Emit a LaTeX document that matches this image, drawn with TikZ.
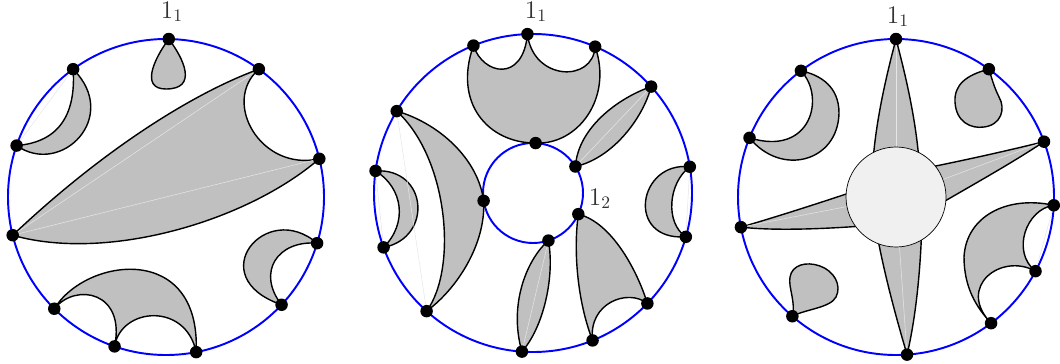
\documentclass[tikz,border=0pt]{standalone}
\usepackage{tikz}
\definecolor{facegray}{RGB}{192,192,192}
\definecolor{holegray}{RGB}{240,240,240}
\definecolor{chordgray}{RGB}{230,230,230}
\tikzset{
  boundary/.style={draw=blue, line width=1.1pt},
  face/.style={draw=black, line width=0.8pt, fill=facegray, line join=round},
  chord/.style={draw=chordgray, line width=0.3pt},
  hole/.style={draw=black, line width=0.4pt, fill=holegray},
  vertex/.style={circle, fill=black, inner sep=0pt, minimum size=2.5mm},
  lab/.style={font=\Large, text=black!80, anchor=base, inner sep=0pt},
}

\begin{document}
\begin{tikzpicture}[x=0.02cm,y=0.02cm]
  \path[use as bounding box] (0,0) rectangle (1060,363);

  % Left disk.
  \begin{scope}[shift={(166,166)}]
    \draw[boundary] (0,0) circle (158);
    \foreach \name/\ang in {a/89,b/126,c/161,d/194,e/225,f/251,g/281,h/317,i/343,j/14,k/54}
      \coordinate (u\name) at (\ang:158);

    \draw[face] (ua) .. controls (-12,138) and (-26,108) .. (0,108)
      .. controls (32,108) and (18,138) .. (ua);
    \draw[face] (ub) .. controls (-90,85) and (-105,55) .. (uc)
      .. controls (-105,20) and (-45,80) .. (ub);
    \draw[face] (ud) .. controls (-60,50) and (30,105) .. (uk)
      .. controls (55,95) and (95,25) .. (uj)
      .. controls (80,-25) and (-60,-65) .. (ud);
    \draw[face] (ui) .. controls (100,-2) and (35,-80) .. (uh)
      .. controls (90,-75) and (112,-43) .. (ui);
    \draw[face] (ue) .. controls (-80,-60) and (35,-45) .. (ug)
      .. controls (20,-105) and (-45,-110) .. (uf)
      .. controls (-40,-95) and (-90,-85) .. (ue);

    \draw[chord] (ub) -- (uc);
    \draw[chord] (ud) -- (uk);
    \draw[chord] (ud) -- (uj);

    \foreach \name in {a,b,c,d,e,f,g,h,i,j,k}
      \node[vertex] (dot-u\name) at (u\name) {};
    \node[lab] (ulab) at (6,179) {$1_1$};
  \end{scope}

  % Middle disk, with an inner boundary.
  \begin{scope}[shift={(533,170)}]
    \draw[boundary] (0,0) circle (159);
    \draw[boundary] (0,0) circle (50);
    \foreach \name/\ang in {a/92,b/112,c/149,d/172,e/200,f/228,g/266,h/292,i/316,j/344,k/9.5,l/42,m/67}
      \coordinate (v\name) at (\ang:159);
    \foreach \name/\ang in {n/87,o/32,p/189,q/335,r/288}
      \coordinate (v\name) at (\ang:50);

    \draw[face] (vb) .. controls (-80,90) and (-45,50) .. (vn)
      .. controls (45,48) and (80,95) .. (vm)
      .. controls (60,110) and (0,112) .. (va)
      .. controls (-10,110) and (-50,118) .. (vb);
    \draw[face] (vo) .. controls (45,65) and (85,95) .. (vl)
      .. controls (110,75) and (80,35) .. (vo);
    \draw[face] (vc) .. controls (-95,70) and (-55,35) .. (vp)
      .. controls (-47,-50) and (-75,-95) .. (vf)
      .. controls (-75,-75) and (-85,35) .. (vc);
    \draw[face] (vd) .. controls (-105,25) and (-100,-45) .. (ve)
      .. controls (-125,-30) and (-130,5) .. (vd);
    \draw[face] (vk) .. controls (105,32) and (92,-48) .. (vj)
      .. controls (132,-30) and (135,10) .. (vk);
    \draw[face] (vr) .. controls (-5,-65) and (-25,-110) .. (vg)
      .. controls (10,-135) and (22,-85) .. (vr);
    \draw[face] (vq) .. controls (80,-30) and (105,-80) .. (vi)
      .. controls (95,-95) and (55,-110) .. (vh)
      .. controls (45,-110) and (40,-60) .. (vq);

    \draw[chord] (vo) -- (vl);
    \draw[chord] (vc) -- (vf);
    \draw[chord] (vd) -- (ve);
    \draw[chord] (vk) -- (vj);
    \draw[chord] (vr) -- (vg);

    \foreach \name in {a,b,c,d,e,f,g,h,i,j,k,l,m,n,o,p,q,r}
      \node[vertex] (dot-v\name) at (v\name) {};
    \node[lab] (vlab) at (3,175) {$1_1$};
    \node[lab] (vlabin) at (67,-12) {$1_2$};
  \end{scope}

  % Right disk, with a hole.
  \begin{scope}[shift={(896,166)}]
    \draw[boundary] (0,0) circle (158);
    \coordinate (wo) at (0,0);
    \foreach \name/\ang in {a/90,b/127,c/158,d/191,e/229,f/274,g/307,h/332,i/357,j/20.5,k/54}
      \coordinate (w\name) at (\ang:158);

    \draw[face] (wa) .. controls (-10,120) and (-22,70) .. (-24,20) -- (24,20)
      .. controls (22,70) and (10,120) .. (wa);
    \draw[face] (wj) .. controls (110,46) and (70,37) .. (20,27) -- (20,-21)
      .. controls (60,3) and (110,30) .. (wj);
    \draw[face] (wd) .. controls (-120,-20) and (-70,-4) .. (-20,13) -- (-20,-28)
      .. controls (-70,-32) and (-120,-34) .. (wd);
    \draw[face] (wf) .. controls (0,-120) and (-14,-70) .. (-22,-20) -- (26,-20)
      .. controls (25,-70) and (20,-120) .. (wf);
    \foreach \name in {a,j,d,f}
      \draw[chord] (w\name) -- (wo);
    \draw[hole] (wo) circle (50);

    \draw[face] (wb) .. controls (-70,100) and (-85,40) .. (wc)
      .. controls (-115,20) and (-58,35) .. (-57,84)
      .. controls (-57,110) and (-75,122) .. (wb);
    \draw[face] (wk) .. controls (70,122) and (58,112) .. (59,95)
      .. controls (60,75) and (75,68) .. (88,70)
      .. controls (105,72) and (110,88) .. (103,100)
      .. controls (98,110) and (96,118) .. (wk);
    \draw[face] (we) .. controls (-100,-105) and (-108,-90) .. (-106,-80)
      .. controls (-104,-68) and (-90,-64) .. (-76,-69)
      .. controls (-62,-74) and (-54,-88) .. (-60,-100)
      .. controls (-66,-111) and (-90,-112) .. (we);
    \draw[face] (wi) .. controls (110,2) and (70,-20) .. (68,-60)
      .. controls (68,-90) and (80,-110) .. (wg)
      .. controls (60,-90) and (105,-55) .. (wh)
      .. controls (115,-55) and (130,-12) .. (wi);
    \draw[chord] (wi) -- (wh);

    \foreach \name in {a,b,c,d,e,f,g,h,i,j,k}
      \node[vertex] (dot-w\name) at (w\name) {};
    \node[lab] (wlab) at (2,174) {$1_1$};
  \end{scope}
\end{tikzpicture}
\end{document}
